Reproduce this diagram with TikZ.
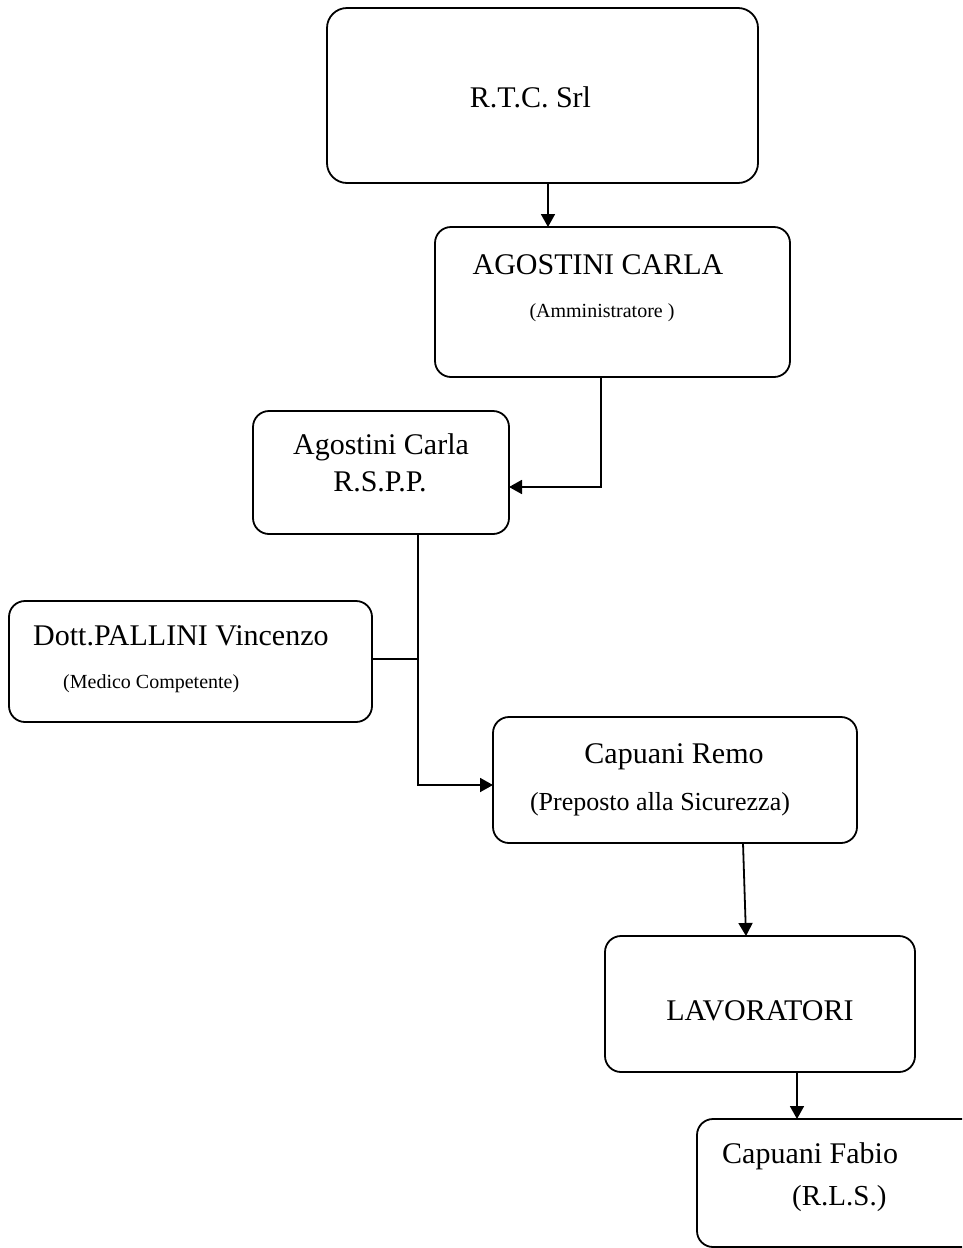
\documentclass[tikz,border=0pt]{standalone}
\usepackage{fontspec}
\setmainfont{Liberation Serif}
\usetikzlibrary{arrows.meta}
\begin{document}
\begin{tikzpicture}[x=1pt,y=-1pt,
  box/.style={draw, line width=1.8pt, rounded corners=16pt, inner sep=0pt, outer sep=0pt},
  big/.style={font=\fontsize{30}{36}\selectfont, inner sep=0pt, anchor=base},
  mid/.style={font=\fontsize{26}{31}\selectfont, inner sep=0pt, anchor=base},
  small/.style={font=\fontsize{20}{24}\selectfont, inner sep=0pt, anchor=base},
  link/.style={line width=1.8pt},
  arr/.style={line width=1.8pt, -{Triangle[length=13pt,width=14pt]}}
]
\clip (0,0) rectangle (962,1248);
\fill[white] (0,0) rectangle (962,1248);

% boxes
\node[box, rounded corners=20pt, minimum width=431pt, minimum height=175pt] (rtc) at (542.5,95.5) {};
\node[box, minimum width=355pt, minimum height=150pt] (agc) at (612.5,302) {};
\node[box, minimum width=256pt, minimum height=123pt] (rspp) at (381,472.5) {};
\node[box, minimum width=363pt, minimum height=121pt] (pal) at (190.5,661.5) {};
\node[box, minimum width=364pt, minimum height=126pt] (remo) at (675,780) {};
\node[box, minimum width=310pt, minimum height=136pt] (lav) at (760,1004) {};
\node[box, minimum width=313pt, minimum height=128pt] (rls) at (853.5,1183) {};

% labels
\node[big] (trtc) at (530.5,107) {R.T.C. Srl};
\node[big] (tagc) at (598,274) {AGOSTINI CARLA};
\node[small] (tagcr) at (602,317) {(Amministratore )};
\node[big] (trspp) at (381,454) {Agostini Carla};
\node[big] (trsppr) at (380,491) {R.S.P.P.};
\node[big, anchor=base west] (tpal) at (33,645) {Dott.PALLINI Vincenzo};
\node[small, anchor=base west] (tpalr) at (63,688) {(Medico Competente)};
\node[big] (tremo) at (674,763) {Capuani Remo};
\node[mid] (tremor) at (660,810) {(Preposto alla Sicurezza)};
\node[big] (tlav) at (760,1020) {LAVORATORI};
\node[big, anchor=base west] (trls) at (722,1163) {Capuani Fabio};
\node[mid, font=\fontsize{29}{34}\selectfont, anchor=base west] (trlsr) at (792,1205) {(R.L.S.)};

% routing points
\coordinate (c1) at (548,0);
\coordinate (k1) at (601,487);
\coordinate (k2) at (418,785);
\coordinate (c3) at (743,0);
\coordinate (c4) at (746,0);
\coordinate (c5) at (797,0);

% connectors
\draw[arr] (rtc.south -| c1) -- (agc.north -| c1);
\draw[arr] (agc.south -| k1) |- (rspp.east |- k1);
\draw[arr] (rspp.south -| k2) |- (remo.west |- k2);
\draw[link] (pal.east |- 0,659) -- (k2 |- 0,659);
\draw[arr] (remo.south -| c3) -- (lav.north -| c4);
\draw[arr] (lav.south -| c5) -- (rls.north -| c5);
\end{tikzpicture}
\end{document}
